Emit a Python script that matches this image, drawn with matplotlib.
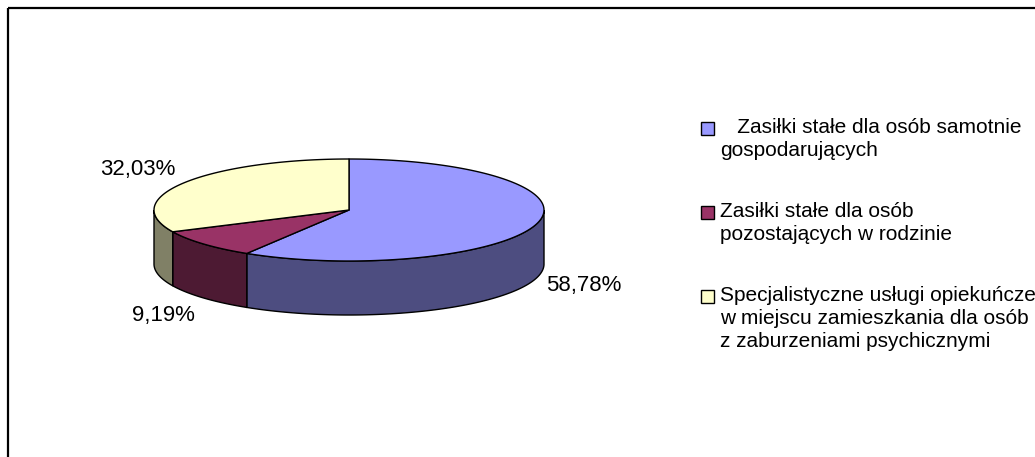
import numpy as np
import matplotlib.pyplot as plt
from matplotlib.patches import Polygon, Rectangle

plt.rcParams['font.family'] = ['Liberation Sans', 'DejaVu Sans']

## donnees
values = [58.78, 9.19, 32.03]
pct_labels = ['58,78%', '9,19%', '32,03%']
legend_labels = ['   Zasiłki stałe dla osób samotnie\ngospodarujących',
                 'Zasiłki stałe dla osób\npozostających w rodzinie',
                 'Specjalistyczne usługi opiekuńcze\nw miejscu zamieszkania dla osób\nz zaburzeniami psychicznymi']
top_colors = ['#9999FF', '#993366', '#FFFFCC']
side_colors = ['#4D4D80', '#4D1A33', '#808066']

# geometrie du camembert "3D" (en pixels)
cx, cy, a, b, depth = 349, 210, 195, 51, 54
label_pos = [(584, 286), (163, 316), (138, 170)]
legend_y = [118, 202, 286]


def arc(t1, t2, dy=0, n=200):
    t = np.radians(np.linspace(t1, t2, n))
    return np.column_stack([cx + a*np.cos(t), cy - b*np.sin(t) + dy])


fig = plt.figure(figsize=(10.35, 4.57), dpi=100)
ax = fig.add_axes([0, 0, 1, 1])
ax.set_xlim(0, 1035)
ax.set_ylim(457, 0)
ax.axis('off')

# cadre
ax.add_patch(Rectangle((8, 8), 1100, 500, fill=False, ec='black', lw=1.6))

total = sum(values)
bornes = []
start = 90
for v in values:
    end = start - 360*v/total
    bornes.append((start, end))
    start = end

# cotes visibles (face avant: angles entre -180 et 0)
for (t1, t2), col in zip(bornes, side_colors):
    hi = min(t1, 0)
    lo = max(t2, -180)
    if hi <= lo:
        continue
    top = arc(hi, lo)
    bot = arc(lo, hi, dy=depth)
    ax.add_patch(Polygon(np.vstack([top, bot]), closed=True, fc=col, ec='black', lw=1))

# dessus
for (t1, t2), col in zip(bornes, top_colors):
    pts = np.vstack([[cx, cy], arc(t1, t2)])
    ax.add_patch(Polygon(pts, closed=True, fc=col, ec='black', lw=1, joinstyle='round'))

# etiquettes
for txt, (x, y) in zip(pct_labels, label_pos):
    ax.text(x, y, txt, fontsize=16, ha='center', va='center')

# legende
for lab, col, y in zip(legend_labels, top_colors, legend_y):
    ax.add_patch(Rectangle((701, y + 4), 13, 13, fc=col, ec='black', lw=1))
    ax.text(720, y, lab, fontsize=15, ha='left', va='top', linespacing=1.28)

fig.savefig('out.png', dpi=100)
